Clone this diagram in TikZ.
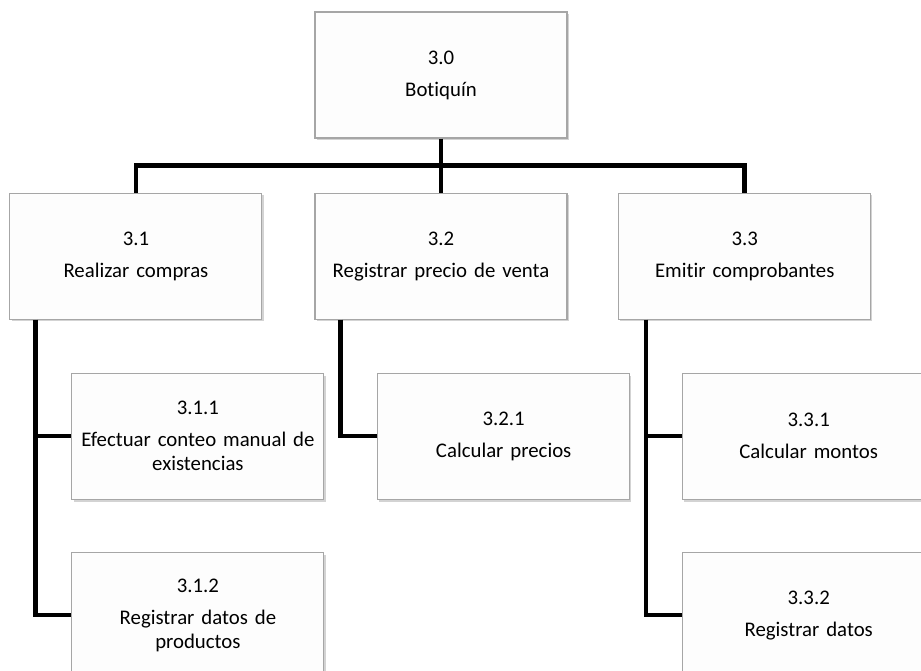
\documentclass[tikz,border=0pt]{standalone}
\usepackage{fontspec}
\setmainfont{Carlito}[Ligatures=NoCommon, WordSpace=0.8]
\usepackage{tikz}
\usetikzlibrary{positioning,shadows}
\definecolor{boxline}{HTML}{A6A6A6}
\definecolor{boxfill}{HTML}{FDFDFD}

\begin{document}
\begin{tikzpicture}[
  box/.style={draw=boxline, fill=boxfill, line width=0.8pt, minimum width=189pt, minimum height=94.5pt, align=center,
    font=\fontsize{15.6pt}{18pt}\selectfont, text width=187pt, inner sep=0pt,
    drop shadow={opacity=0.35, shadow xshift=1.2pt, shadow yshift=-1.8pt}},
  link/.style={line width=3.4pt, line join=miter}]
\clip (0,0) rectangle (690.75pt,-503.25pt);
% nivel 0 y nivel 1
\node[box] (root) at (330.75pt,-56.25pt) {3.0\\[6pt]Botiquín};
\node[box, below=40.5pt of root] (b2) {3.2\\[6pt]Registrar precio de venta};
\node[box, left=39pt of b2] (b1) {3.1\\[6pt]Realizar compras};
\node[box, right=38pt of b2] (b3) {3.3\\[6pt]Emitir comprobantes};
% nivel 2
\node[box, below=39.75pt of b1, xshift=46.5pt] (c11) {3.1.1\\[6pt]Efectuar conteo manual de\\existencias};
\node[box, below=39pt of c11] (c12) {3.1.2\\[6pt]Registrar datos de\\productos};
\node[box, below=39.75pt of b2, xshift=47pt] (c21) {3.2.1\\[6pt]Calcular precios};
\node[box, below=39.75pt of b3, xshift=48pt] (c31) {3.3.1\\[6pt]Calcular montos};
\node[box, below=39pt of c31] (c32) {3.3.2\\[6pt]Registrar datos};
% conectores
\coordinate (bus) at ([yshift=-20.25pt]root.south);
\draw[link] (root) -- (b2);
\draw[link] (b1.north) |- (bus) -| (b3.north);
\coordinate (s1) at ([xshift=19.5pt]b1.south west);
\coordinate (s2) at ([xshift=19.5pt]b2.south west);
\coordinate (s3) at ([xshift=21pt]b3.south west);
\draw[link] (s1) |- (c12.west);
\draw[link] (s1 |- c11.west) -- (c11.west);
\draw[link] (s2) |- (c21.west);
\draw[link] (s3) |- (c32.west);
\draw[link] (s3 |- c31.west) -- (c31.west);
\end{tikzpicture}
\end{document}
